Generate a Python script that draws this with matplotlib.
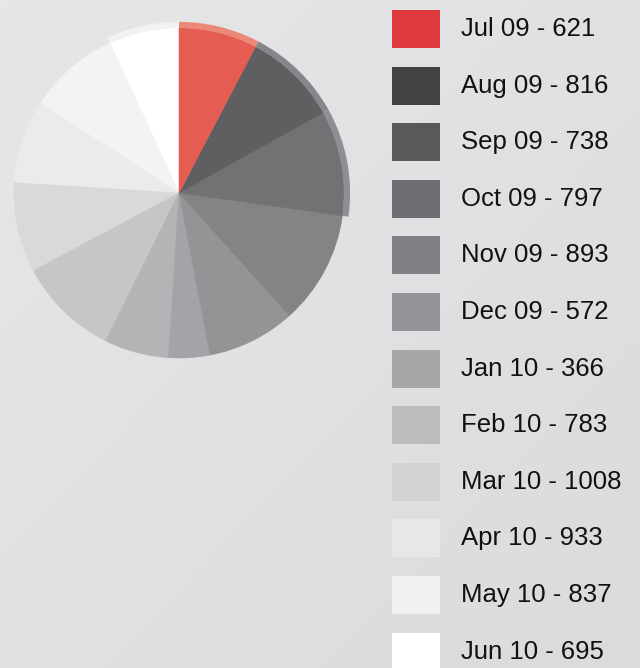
import numpy as np
import matplotlib
matplotlib.use('Agg')
from matplotlib import pyplot as plt
from matplotlib.colors import to_rgb, LinearSegmentedColormap
from matplotlib.patches import Rectangle, Wedge

months = ['Jul 09', 'Aug 09', 'Sep 09', 'Oct 09', 'Nov 09', 'Dec 09',
          'Jan 10', 'Feb 10', 'Mar 10', 'Apr 10', 'May 10', 'Jun 10']
visits = [621, 816, 738, 797, 893, 572, 366, 783, 1008, 933, 837, 695]
swatch_colors = ['#e0393e', '#434345', '#58595b', '#6d6e71', '#808184', '#939497',
                 '#a6a7a9', '#bbbcbe', '#d1d2d4', '#e6e7e8', '#f1f1f2', '#ffffff']

W, H = 640, 668
plt.rcParams['font.family'] = ['Liberation Sans', 'DejaVu Sans']

fig = plt.figure(figsize=(W / 100, H / 100), dpi=100)

# background: soft diagonal grey gradient
bg = fig.add_axes([0, 0, 1, 1])
yy, xx = np.mgrid[0:1:200j, 0:1:200j]
grad = (xx + yy) / 2
bg.imshow(grad, cmap=LinearSegmentedColormap.from_list('bg', ['#e6e7e9', '#dadbdd']),
          extent=[0, W, H, 0], aspect='auto')
bg.set_xlim(0, W)
bg.set_ylim(H, 0)
bg.axis('off')

# pie slices are the swatch colours lightened (drawn semi transparent over white)
def lighten(c, a=0.85):
    r, g, b = to_rgb(c)
    return (r * a + 1 - a, g * a + 1 - a, b * a + 1 - a)

pie_colors = [lighten(c) for c in swatch_colors]
pie_colors[0] = '#e55d52'

cx, cy, rad = 179, 193, 165
ax = fig.add_axes([(cx - rad) / W, (H - cy - rad) / H, 2 * rad / W, 2 * rad / H])
# values run anticlockwise from the top, colours were handed out the other way round
wedges, _ = ax.pie(visits, colors=pie_colors[::-1], startangle=90, counterclock=True,
                   radius=1, wedgeprops=dict(linewidth=0.4))
for w in wedges:
    w.set_edgecolor(w.get_facecolor())
    w.set_clip_on(False)

# thin highlighted rim on the slices right of the top
rim_colors = {-1: '#ec8878', -2: '#86878a', -3: '#8e8f92', 0: '#f2f2f3'}
for idx, rc in rim_colors.items():
    w = wedges[idx]
    ax.add_patch(Wedge((0, 0), 1.037, w.theta1, w.theta2, width=0.037,
                       facecolor=rc, edgecolor='none', clip_on=False))
ax.set_xlim(-1, 1)
ax.set_ylim(-1, 1)
ax.axis('off')

# legend
leg = fig.add_axes([0, 0, 1, 1], facecolor='none')
leg.set_xlim(0, W)
leg.set_ylim(H, 0)
leg.axis('off')
pitch = 56.6
for i, (m, v, c) in enumerate(zip(months, visits, swatch_colors)):
    top = 10 + i * pitch
    leg.add_patch(Rectangle((392, top), 48, 38, facecolor=c, edgecolor='none'))
    leg.text(461, top + 19, f'{m} - {v}', fontsize=18.5, color='#111111',
             va='center', ha='left')

fig.savefig('out.png', dpi=100)
